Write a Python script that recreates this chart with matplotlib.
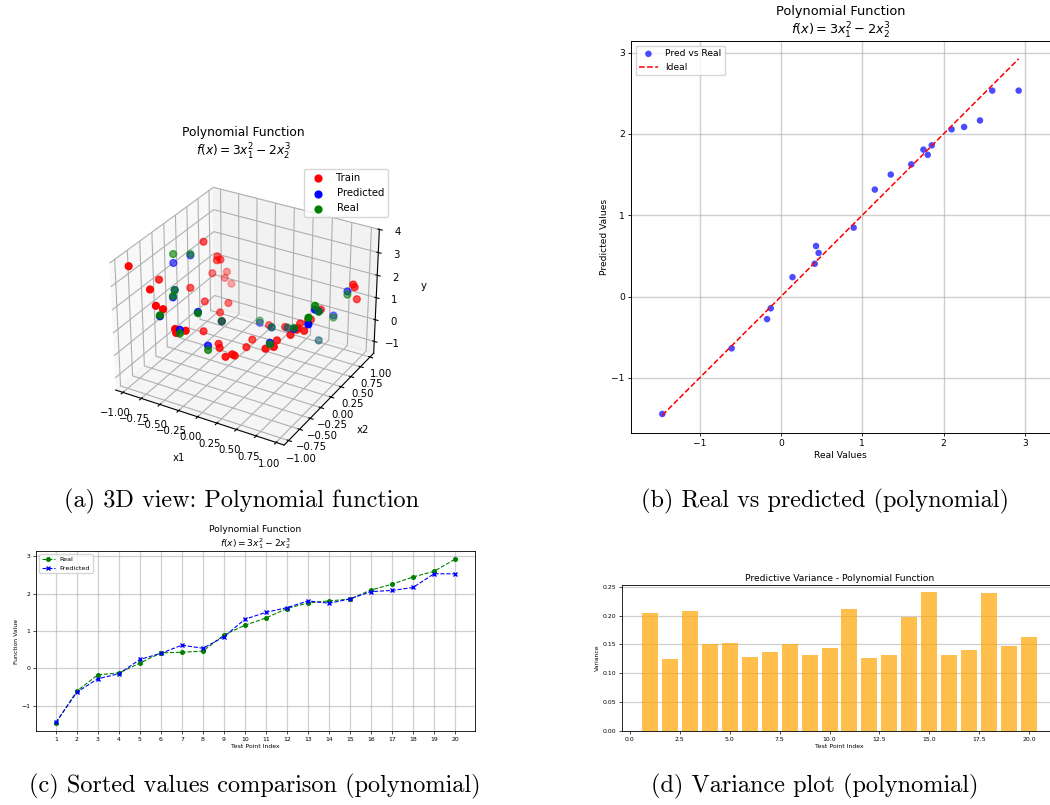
import numpy as np
import matplotlib
matplotlib.use('Agg')
import matplotlib.pyplot as plt
from mpl_toolkits.mplot3d import Axes3D  # noqa: F401

# ---------------- data ----------------
train_x1 = [-1.005, -0.712, -0.621, -0.578, -0.605, -0.735, -0.725, -0.724, -0.719, -0.877,
            -0.752, -0.726, -0.581, -0.453, -0.614, -0.519, -0.419, -0.361, -0.354, -0.339,
            -0.287, -0.374, -0.164, -0.098, 0.077, 0.115, 0.152, 0.121, 0.082, 0.982,
            0.990, 0.989, 0.671, 0.610, 0.569, 0.544, 0.593, 0.338, 0.051, 0.578,
            0.606, 0.731, 0.461, 0.558, 0.462]
train_x2 = [-0.874, 0.230, 0.386, 0.382, 0.347, 0.455, 0.773, 0.722, 0.868, -0.471,
            -0.845, -0.051, 0.028, 0.347, -0.945, -0.948, 0.099, 0.041, -0.969, -0.972,
            -0.859, -0.345, -0.362, -0.450, -0.614, -0.531, -0.541, -0.225, -0.021, 0.716,
            0.740, 0.812, 0.534, 0.411, 0.408, 0.272, 0.125, 0.293, 0.425, 0.127,
            -0.073, 0.016, -0.124, -0.372, -0.389]
train_y = [3.60, 3.20, 2.40, 2.30, 2.30, 1.43, 1.00, 0.80, 0.30, 2.50,
           2.80, 1.60, 1.00, 0.52, 2.40, 2.35, 0.54, 0.30, 1.70, 1.55,
           1.50, 0.50, 0.18, 0.22, 0.30, 0.30, 0.30, 0.08, 0.02, 2.10,
           1.95, 1.30, 1.00, 0.70, 0.60, 0.70, 0.80, 0.30, -0.13, 0.70,
           0.85, 1.00, 0.55, 0.80, 0.65]

# test points, ordered by increasing real value
test_x1 = [0.420, 0.150, -0.106, 0.101, 0.685, -0.333, -0.134, 0.414, 0.577, -0.405,
           0.858, 0.814, -0.303, -0.738, -0.780, -0.548, 0.870, 0.976, -0.866, -0.938]
test_x2 = [0.990, 0.700, 0.483, 0.400, 0.834, -0.008, -0.641, -0.202, 0.061, -0.795,
           0.829, 0.201, -0.571, -0.404, -0.300, -0.970, 0.000, -0.356, 0.186, -0.069]
real_vals = [-1.459, -0.606, -0.171, -0.126, 0.142, 0.415, 0.431, 0.463, 0.894, 1.154,
             1.350, 1.602, 1.752, 1.805, 1.854, 2.098, 2.252, 2.447, 2.598, 2.923]
pred_vals = [-1.444, -0.637, -0.278, -0.145, 0.238, 0.403, 0.621, 0.536, 0.847, 1.315,
             1.500, 1.625, 1.806, 1.742, 1.859, 2.056, 2.085, 2.165, 2.532, 2.532]
variance = [0.205, 0.125, 0.208, 0.150, 0.152, 0.129, 0.137, 0.151, 0.131, 0.144,
            0.211, 0.126, 0.132, 0.198, 0.241, 0.131, 0.140, 0.239, 0.148, 0.163]
test_index = list(range(1, 21))

title_main = "Polynomial Function"
title_formula = r"$f(x) = 3x_1^2 - 2x_2^3$"
captions = ["(a) 3D view: Polynomial function",
            "(b) Real vs predicted (polynomial)",
            "(c) Sorted values comparison (polynomial)",
            "(d) Variance plot (polynomial)"]

# ---------------- figure ----------------
W, H = 1050, 805
fig = plt.figure(figsize=(W / 100, H / 100), dpi=100)


def rect(l, t, r, b):
    return [l / W, 1 - b / H, (r - l) / W, (b - t) / H]


# ---- (a) 3D view ----
fsa = 7.3
ax3 = fig.add_axes(rect(93, 164, 393, 464), projection='3d')
ax3.scatter(train_x1, train_x2, train_y, c='red', s=24, label='Train')
ax3.scatter(test_x1, test_x2, pred_vals, c='blue', s=24, label='Predicted')
ax3.scatter(test_x1, test_x2, real_vals, c='green', s=24, label='Real')
ax3.set_xlim(-1.1, 1.1)
ax3.set_ylim(-1.1, 1.1)
ax3.set_zlim(-1.55, 4.005)
ax3.set_xlabel('x1', fontsize=fsa, labelpad=0)
ax3.set_ylabel('x2', fontsize=fsa, labelpad=0)
ax3.set_zlabel('y', fontsize=fsa, labelpad=0)
ax3.tick_params(labelsize=fsa, pad=0)
ax3.set_title(title_main + "\n" + title_formula, fontsize=8.8)
ax3.legend(fontsize=fsa, loc='upper right')

# ---- (b) real vs predicted ----
fsb = 6.6
axb = fig.add_axes(rect(631, 41, 1050, 433))
axb.scatter(real_vals, pred_vals, color='blue', alpha=0.7, s=22, edgecolors='none',
            label='Pred vs Real')
lo, hi = min(real_vals), max(real_vals)
axb.plot([lo, hi], [lo, hi], 'r--', lw=1.1, label='Ideal')
axb.set_aspect('equal', adjustable='datalim')
axb.grid(True, color='#b0b0b0', alpha=0.6, lw=1.0)
axb.set_xlabel('Real Values', fontsize=fsb, labelpad=2)
axb.set_ylabel('Predicted Values', fontsize=fsb, labelpad=2)
axb.tick_params(labelsize=fsb, length=2.5, width=0.6, pad=2)
axb.set_title(title_main + "\n" + title_formula, fontsize=9.3, pad=3)
axb.legend(fontsize=fsb, loc='upper left')
for s in axb.spines.values():
    s.set_linewidth(0.7)

# ---- (c) sorted comparison ----
fsc = 4.4
axc = fig.add_axes(rect(36, 551, 475, 731))
axc.plot(test_index, real_vals, 'g--o', ms=2.6, lw=0.8, label='Real')
axc.plot(test_index, pred_vals, 'b--x', ms=2.6, lw=0.8, label='Predicted')
axc.set_xticks(test_index)
axc.grid(True, color='#b0b0b0', alpha=0.6, lw=0.9)
axc.set_xlabel('Test Point Index', fontsize=fsc, labelpad=2)
axc.set_ylabel('Function Value', fontsize=fsc, labelpad=2)
axc.tick_params(labelsize=fsc, length=2, width=0.5, pad=2)
axc.set_title(title_main + "\n" + title_formula, fontsize=6.6, pad=3)
axc.legend(fontsize=4.6, loc='upper left')
for s in axc.spines.values():
    s.set_linewidth(0.6)

# ---- (d) variance ----
fsd = 4.4
axd = fig.add_axes(rect(622, 585, 1057, 731))
axd.bar(test_index, variance, color='orange', alpha=0.7)
axd.grid(True, axis='y', color='#b0b0b0', alpha=0.6, lw=0.9)
axd.set_axisbelow(True)
axd.set_xlabel('Test Point Index', fontsize=fsd, labelpad=2)
axd.set_ylabel('Variance', fontsize=fsd, labelpad=2)
axd.tick_params(labelsize=fsd, length=2, width=0.5, pad=2)
axd.set_title('Predictive Variance - Polynomial Function', fontsize=6.6, pad=3)
for s in axd.spines.values():
    s.set_linewidth(0.6)

# ---- captions ----
cap_kw = dict(family='cmr10', fontsize=17.5, ha='center', va='baseline')
fig.text(242 / W, 1 - 507 / H, captions[0], **cap_kw)
fig.text(825 / W, 1 - 507 / H, captions[1], **cap_kw)
fig.text(255 / W, 1 - 792 / H, captions[2], **cap_kw)
fig.text(815 / W, 1 - 792 / H, captions[3], **cap_kw)

fig.savefig('out.png', dpi=100)
